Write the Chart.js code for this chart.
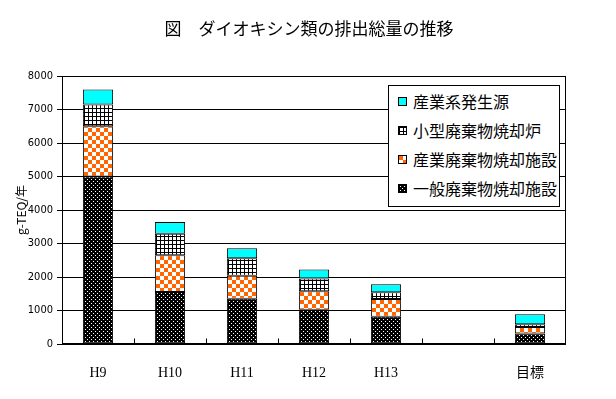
<!DOCTYPE html>
<html>
<head>
<meta charset="utf-8">
<script src="https://cdn.jsdelivr.net/npm/chart.js@4"></script>
<style>
  body { margin: 0; background: #fff; }
  #wrap { position: relative; width: 616px; height: 399px; }
  #title {
    position: absolute; left: 0; top: 18px; width: 618px; text-align: center;
    font: 17px/20px 'Noto Sans CJK JP', sans-serif; color: #000; white-space: pre;
  }
  #legend {
    position: absolute; left: 388px; top: 85px; width: 170px; height: 119px;
    border: 1px solid #000; background: #fff; padding-top: 1px; box-sizing: content-box;
  }
  .row { position: relative; height: 29px; line-height: 29px;
    font: 16px/29px 'Noto Sans CJK JP', sans-serif; color: #000; white-space: nowrap; }
  .sw { position: absolute; left: 9px; top: 10px; width: 7px; height: 7px; border: 1px solid #000; }
  .lbl { position: absolute; left: 24px; top: 0; }
</style>
</head>
<body>
<div id="wrap">
  <canvas id="myChart" width="616" height="399"></canvas>
  <div id="title">図　ダイオキシン類の排出総量の推移</div>
  <div id="legend"></div>
</div>
<script>
const categorias = ['H9', 'H10', 'H11', 'H12', 'H13', '', '目標'];
const ippan    = [5000, 1550, 1350, 1019, 812, null, 310];   // 一般廃棄物焼却施設
const sangyoHk = [1500, 1100,  690,  555, 533, null, 200];   // 産業廃棄物焼却施設
const kogata   = [ 650,  640,  520,  380, 200, null,  80];   // 小型廃棄物焼却炉
const sangyoKei= [ 450,  350,  300,  270, 240, null, 300];   // 産業系発生源
const yTicks = [0, 1000, 2000, 3000, 4000, 5000, 6000, 7000, 8000];

function makeTile(w, h, draw) {
    const c = document.createElement('canvas');
    c.width = w; c.height = h;
    draw(c.getContext('2d'));
    return c;
}

// black with white dots
const tileDots = makeTile(4, 4, g => {
    g.fillStyle = '#000'; g.fillRect(0, 0, 4, 4);
    g.fillStyle = '#fff'; g.fillRect(1, 1, 1, 1); g.fillRect(3, 3, 1, 1);
});
// orange / white checker
const tileChecker = makeTile(8, 8, g => {
    g.fillStyle = '#fff'; g.fillRect(0, 0, 8, 8);
    g.fillStyle = '#ff6600'; g.fillRect(0, 0, 4, 4); g.fillRect(4, 4, 4, 4);
});
// white with black grid lines
const tileGrid = makeTile(4, 4, g => {
    g.fillStyle = '#fff'; g.fillRect(0, 0, 4, 4);
    g.fillStyle = '#000'; g.fillRect(0, 0, 4, 1); g.fillRect(0, 0, 1, 4);
});

const ctx = document.getElementById('myChart').getContext('2d');
const patDots = ctx.createPattern(tileDots, 'repeat');
const patChecker = ctx.createPattern(tileChecker, 'repeat');
const patGrid = ctx.createPattern(tileGrid, 'repeat');

const series = [
    { label: '一般廃棄物焼却施設', data: ippan, bg: patDots, tile: tileDots },
    { label: '産業廃棄物焼却施設', data: sangyoHk, bg: patChecker, tile: tileChecker },
    { label: '小型廃棄物焼却炉', data: kogata, bg: patGrid, tile: tileGrid },
    { label: '産業系発生源', data: sangyoKei, bg: '#00ffff', tile: null }
];

// html legend, top item first
const legend = document.getElementById('legend');
series.slice().reverse().forEach(s => {
    const row = document.createElement('div');
    row.className = 'row';
    const sw = document.createElement('div');
    sw.className = 'sw';
    if (s.tile) sw.style.background = 'url(' + s.tile.toDataURL() + ')';
    else sw.style.background = s.bg;
    const lbl = document.createElement('span');
    lbl.className = 'lbl';
    lbl.textContent = s.label;
    row.appendChild(sw);
    row.appendChild(lbl);
    legend.appendChild(row);
});

const marcoPlugin = {
    id: 'marco',
    afterDraw(chart) {
        const a = chart.chartArea;
        const g = chart.ctx;
        const xs = chart.scales.x;
        g.save();
        g.strokeStyle = '#000';
        g.lineWidth = 1;
        const l = Math.round(a.left) + 0.5, r = Math.round(a.right) - 0.5;
        const t = Math.round(a.top) + 0.5, b = Math.round(a.bottom) - 0.5;
        g.strokeRect(l, t, r - l, b - t);
        // inner tick marks between categories
        const half = (xs.getPixelForValue(1) - xs.getPixelForValue(0)) / 2;
        g.beginPath();
        for (let i = 1; i < categorias.length; i++) {
            const x = Math.round(xs.getPixelForValue(i) - half) + 0.5;
            g.moveTo(x, b);
            g.lineTo(x, b - 5);
        }
        g.stroke();
        g.restore();
    }
};

const data = {
    labels: categorias,
    datasets: series.map(s => ({
        label: s.label,
        data: s.data,
        backgroundColor: s.bg,
        borderColor: '#000',
        borderWidth: 1,
        borderSkipped: false,
        categoryPercentage: 1,
        barPercentage: 0.42
    }))
};

const config = {
    type: 'bar',
    data: data,
    options: {
        responsive: false,
        animation: false,
        layout: { padding: { top: 76, right: 50, bottom: 0, left: 0 } },
        plugins: {
            legend: { display: false },
            tooltip: { enabled: false }
        },
        scales: {
            x: {
                stacked: true,
                grid: { display: false },
                border: { display: false },
                ticks: {
                    color: '#000',
                    padding: 13,
                    font: { family: "'Liberation Serif', 'Noto Sans CJK JP', serif", size: 14 }
                },
                afterFit(scale) { scale.height = 55; }
            },
            y: {
                stacked: true,
                min: 0,
                max: 8000,
                afterBuildTicks(scale) { scale.ticks = yTicks.map(v => ({ value: v })); },
                grid: { color: '#000', lineWidth: 1, tickLength: 5 },
                border: { color: '#000' },
                ticks: {
                    color: '#000',
                    padding: 4,
                    callback: v => String(v),
                    font: { family: "'DejaVu Sans Condensed', 'Liberation Sans Narrow', 'Liberation Sans', sans-serif", size: 11 }
                },
                title: {
                    display: true,
                    text: 'g-TEQ/年',
                    color: '#000',
                    padding: { top: 14, bottom: 0 },
                    font: { family: "'Noto Sans CJK JP', sans-serif", size: 12 }
                },
                afterFit(scale) { scale.width = 62; }
            }
        }
    },
    plugins: [marcoPlugin]
};

const myChart = new Chart(ctx, config);
</script>
</body>
</html>
